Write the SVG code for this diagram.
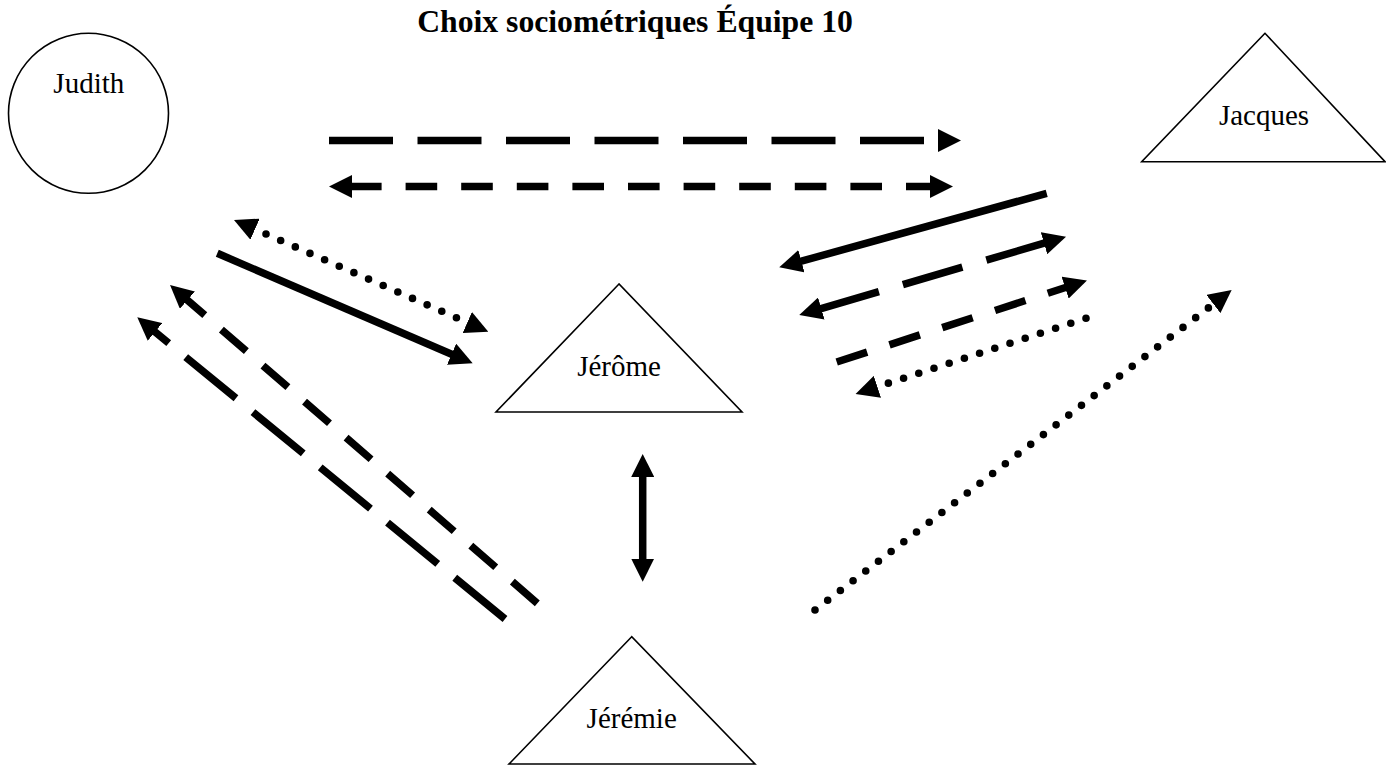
<svg xmlns="http://www.w3.org/2000/svg" width="1386" height="765" viewBox="0 0 1386 765">
<defs>
<marker id="ah" markerUnits="userSpaceOnUse" markerWidth="23" markerHeight="23" refX="2" refY="11.5" orient="auto-start-reverse" viewBox="0 0 23 23"><path d="M0,0 L23,11.5 L0,23 Z" fill="#000"/></marker>
</defs>
<style>
.node{fill:#fff;stroke:#000;stroke-width:1.6}
.lbl{font-family:"Liberation Serif","Times New Roman",serif;font-size:29px;text-anchor:middle;fill:#000}
.title{font-family:"Liberation Serif","Times New Roman",serif;font-weight:bold;font-size:31.7px;text-anchor:middle;fill:#000}
.c{fill:none;stroke:#000;stroke-width:7.5}
.dot{stroke-width:7.6;stroke-linecap:round;stroke-dasharray:0 16}
</style>
<rect width="1386" height="765" fill="#fff"/>
<text class="title" x="635" y="32">Choix sociométriques Équipe 10</text>
<g id="judith"><circle class="node" cx="88.5" cy="113.3" r="80"/><text class="lbl" x="88.8" y="93">Judith</text></g>
<g id="jacques"><polygon class="node" points="1265,33.3 1141.7,161.7 1385,161.7"/><text class="lbl" x="1264" y="125">Jacques</text></g>
<g id="jerome"><polygon class="node" points="619,284 496,412 742,412"/><text class="lbl" x="619" y="376">Jérôme</text></g>
<g id="jeremie"><polygon class="node" points="631.7,636.7 509,764 755,764"/><text class="lbl" x="631.7" y="728.3">Jérémie</text></g>
<g id="connectors">
<path class="c" d="M329,140.5 L940,140.5" stroke-dasharray="64 24.5" marker-end="url(#ah)"/>
<path class="c" d="M350,186.5 L932,186.5" stroke-dasharray="31.6 24" marker-start="url(#ah)" marker-end="url(#ah)"/>
<path class="c" d="M1046.7,193.3 L799.5,261.7" marker-end="url(#ah)"/>
<path class="c" d="M819.4,309.1 L1045.9,242.6" stroke-dasharray="62 25" marker-start="url(#ah)" marker-end="url(#ah)"/>
<path class="c" d="M836.7,362 L1067,287" stroke-dasharray="32 23.5" marker-end="url(#ah)"/>
<path class="c dot" d="M1086,318.3 L875.5,387.4" marker-end="url(#ah)"/>
<path class="c dot" d="M815,610 L1215,302.8" marker-end="url(#ah)"/>
<path class="c dot" d="M253.2,228.4 L469.1,323.3" stroke-dashoffset="2" marker-start="url(#ah)" marker-end="url(#ah)"/>
<path class="c" d="M217.3,253.3 L453.4,355" marker-end="url(#ah)"/>
<path class="c" d="M537.3,603.3 L185.9,298.8" stroke-dasharray="33 22" marker-end="url(#ah)"/>
<path class="c" d="M505,619 L153.5,330.6" stroke-dasharray="65 22" marker-end="url(#ah)"/>
<path class="c" d="M642.7,475 L642.7,560.7" marker-start="url(#ah)" marker-end="url(#ah)"/>
</g>
</svg>
